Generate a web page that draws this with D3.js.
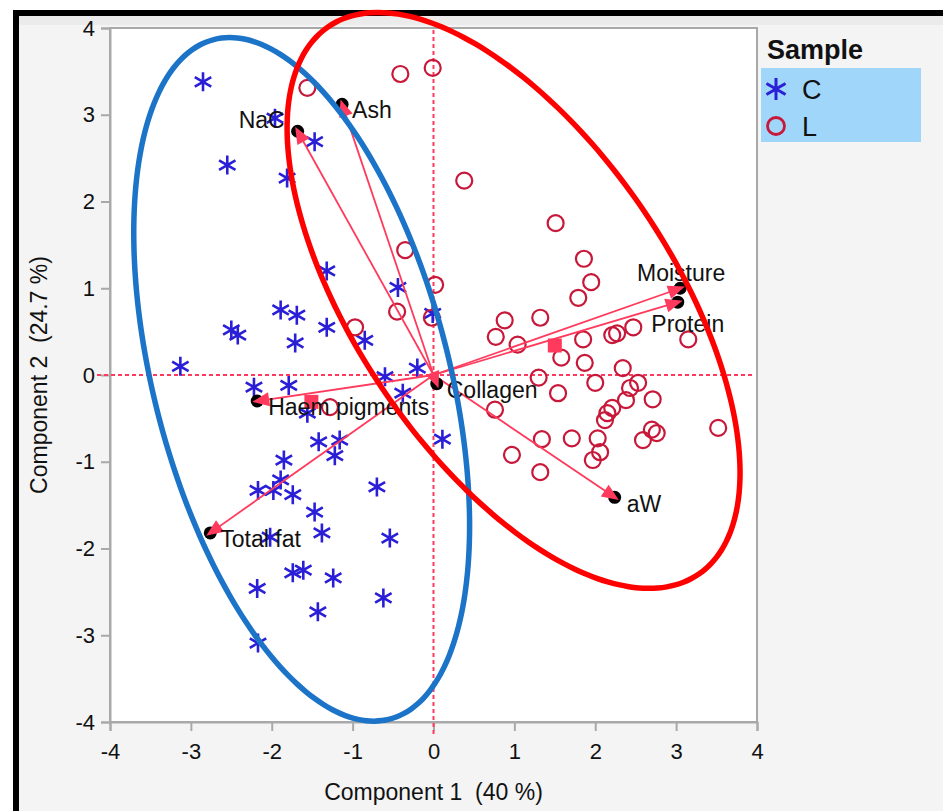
<!DOCTYPE html>
<html>
<head>
<meta charset="utf-8">
<script src="https://cdn.jsdelivr.net/npm/d3@7"></script>
<style>
  html, body { margin: 0; padding: 0; background: #fff; }
  svg { display: block; font-family: "Liberation Sans", Arial, Helvetica, sans-serif; }
</style>
</head>
<body>
<svg width="943" height="811"></svg>
<script>
// 样本得分 C 组 (component 1, component 2)
var scoresC = [
  [-2.85, 3.38], [-1.96, 2.96], [-2.55, 2.42], [-1.81, 2.27], [-1.47, 2.69],
  [-1.32, 1.20], [-0.44, 1.01], [-0.01, 0.71], [-1.89, 0.75], [-1.69, 0.69],
  [-1.32, 0.55], [-2.50, 0.52], [-2.42, 0.46], [-1.71, 0.37], [-0.85, 0.40],
  [-3.13, 0.10], [-2.22, -0.14], [-1.79, -0.12], [-0.60, -0.02], [-0.20, 0.08],
  [-0.38, -0.21], [-1.56, -0.44], [-1.42, -0.77], [-1.16, -0.75], [-1.22, -0.93],
  [-1.85, -0.98], [0.11, -0.74], [-2.17, -1.33], [-1.98, -1.33], [-1.89, -1.21],
  [-1.74, -1.38], [-0.70, -1.29], [-1.47, -1.58], [-1.38, -1.82], [-0.54, -1.88],
  [-2.02, -1.87], [-1.74, -2.28], [-1.61, -2.25], [-1.24, -2.34], [-2.18, -2.46],
  [-0.62, -2.57], [-1.43, -2.73], [-2.17, -3.09]
];
// 样本得分 L 组
var scoresL = [
  [-0.41, 3.47], [-0.01, 3.54], [-1.56, 3.31], [0.38, 2.24], [1.51, 1.75],
  [1.86, 1.34], [-0.35, 1.44], [1.95, 1.07], [0.02, 1.04], [-0.45, 0.73],
  [-0.97, 0.55], [-0.02, 0.66], [1.79, 0.89], [0.88, 0.63], [1.32, 0.66],
  [0.77, 0.44], [1.04, 0.35], [1.85, 0.41], [1.58, 0.20], [1.87, 0.14],
  [2.21, 0.46], [2.27, 0.48], [2.47, 0.55], [3.15, 0.41], [2.34, 0.08],
  [1.30, -0.03], [2.00, -0.09], [2.43, -0.15], [2.53, -0.09], [1.54, -0.21],
  [2.71, -0.28], [0.76, -0.40], [2.38, -0.29], [2.15, -0.44], [2.21, -0.38],
  [2.12, -0.52], [1.34, -0.74], [1.71, -0.73], [2.03, -0.73], [2.70, -0.63],
  [2.76, -0.67], [2.59, -0.75], [3.52, -0.61], [2.06, -0.89], [1.97, -0.98],
  [0.97, -0.92], [1.32, -1.12], [-1.28, -0.37]
];
// 变量载荷
var loadingNames = ["NaCl", "Ash", "Moisture", "Protein", "Collagen", "Haem pigments", "Total fat", "aW"];
var loadingX = [-1.68, -1.13, 3.05, 3.02, 0.04, -2.18, -2.76, 2.24];
var loadingY = [2.81, 3.12, 1.00, 0.84, -0.10, -0.30, -1.82, -1.41];
// 组均值 (红色方块)
var groupMeans = [[-1.51, -0.31], [1.50, 0.34]];
// 椭圆: 中心 + 两个共轭半轴向量 (数据单位)
var ellipseC = { cx: -1.63, cy: -0.05, ux: 1.087, uy: -3.917, vx: 1.769, vy: 0.425 };
var ellipseL = { cx: 0.99, cy: 0.86, ux: 2.282, uy: -3.160, vx: 1.623, vy: 1.016 };
var tickValues = [-4, -3, -2, -1, 0, 1, 2, 3, 4];
var legendItems = ["C", "L"];

const svg = d3.select('svg');
const width = +svg.attr('width');
const height = +svg.attr('height');
const plot = { left: 110, right: 757, top: 28, bottom: 722 };

const starColor = "#2a1fd6";
const circleColor = "#c8183a";
const arrowColor = "#ff3a5c";
const gridGray = "#a9a9a9";

// 背景与边框
svg.append("rect").attr("width", width).attr("height", height).attr("fill", "#fff");
svg.append("rect").attr("x", 13).attr("y", 10).attr("width", width - 13).attr("height", height - 10).attr("fill", "#000");
svg.append("rect").attr("x", 19).attr("y", 16).attr("width", width - 19).attr("height", height - 16).attr("fill", "#f4f4f4");
svg.append("rect").attr("x", 19).attr("y", 16).attr("width", width - 19).attr("height", 9).attr("fill", "#ebebeb");

const xScale = d3.scaleLinear().domain([-4, 4]).range([plot.left, plot.right]);
const yScale = d3.scaleLinear().domain([-4, 4]).range([plot.bottom, plot.top]);

svg.append("rect")
  .attr("x", plot.left).attr("y", plot.top)
  .attr("width", plot.right - plot.left).attr("height", plot.bottom - plot.top)
  .attr("fill", "#fff").attr("stroke", gridGray).attr("stroke-width", 2);

const xAxis = d3.axisBottom(xScale).tickValues(tickValues).tickSize(9).tickPadding(12).tickFormat(d => String(d));
const yAxis = d3.axisLeft(yScale).tickValues(tickValues).tickSize(9).tickPadding(6).tickFormat(d => String(d));

const xAxisG = svg.append("g").attr("transform", `translate(0,${plot.bottom})`).call(xAxis);
const yAxisG = svg.append("g").attr("transform", `translate(${plot.left},0)`).call(yAxis);
[xAxisG, yAxisG].forEach(g => {
  g.attr("font-size", 22).attr("font-family", "Liberation Sans, Arial, sans-serif");
  g.select(".domain").attr("stroke", gridGray).attr("stroke-width", 2);
  g.selectAll(".tick line").attr("stroke", gridGray).attr("stroke-width", 2);
  g.selectAll(".tick text").attr("fill", "#111");
});
xAxisG.selectAll(".tick text").attr("dy", "0.71em");

// 轴标题
svg.append("text")
  .attr("x", xScale(0)).attr("y", 800)
  .attr("text-anchor", "middle").attr("font-size", 23).attr("fill", "#111")
  .attr("xml:space", "preserve")
  .text("Component 1  (40 %)");
svg.append("text")
  .attr("transform", `translate(47,${yScale(0)}) rotate(-90)`)
  .attr("text-anchor", "middle").attr("font-size", 23).attr("fill", "#111")
  .attr("xml:space", "preserve")
  .text("Component 2  (24.7 %)");

// 零线 (虚线)
svg.append("line")
  .attr("x1", xScale(0)).attr("x2", xScale(0))
  .attr("y1", plot.top + 2).attr("y2", plot.bottom + 15)
  .attr("stroke", arrowColor).attr("stroke-width", 2).attr("stroke-dasharray", "4,3");
svg.append("line")
  .attr("x1", plot.left - 13).attr("x2", plot.right - 2)
  .attr("y1", yScale(0)).attr("y2", yScale(0))
  .attr("stroke", arrowColor).attr("stroke-width", 2).attr("stroke-dasharray", "4,3");

// 星号
function starPath(r) {
  var a = r * Math.cos(Math.PI / 6), b = r * Math.sin(Math.PI / 6);
  return `M0,${-r}L0,${r}M${-a},${-b}L${a},${b}M${-a},${b}L${a},${-b}`;
}

svg.append("g").selectAll("path")
  .data(scoresC).enter().append("path")
  .attr("transform", d => `translate(${xScale(d[0])},${yScale(d[1])})`)
  .attr("d", starPath(9.5))
  .attr("stroke", starColor).attr("stroke-width", 2.6).attr("fill", "none");

svg.append("g").selectAll("circle")
  .data(scoresL).enter().append("circle")
  .attr("cx", d => xScale(d[0])).attr("cy", d => yScale(d[1]))
  .attr("r", 8).attr("fill", "none")
  .attr("stroke", circleColor).attr("stroke-width", 2.2);

// 载荷箭头
var loadings = loadingNames.map((n, i) => ({ name: n, x: loadingX[i], y: loadingY[i] }));
const ox = xScale(0), oy = yScale(0);

svg.append("g").selectAll("line")
  .data(loadings).enter().append("line")
  .attr("x1", ox).attr("y1", oy)
  .attr("x2", d => xScale(d.x)).attr("y2", d => yScale(d.y))
  .attr("stroke", arrowColor).attr("stroke-width", 1.8);

svg.append("g").selectAll("rect")
  .data(groupMeans).enter().append("rect")
  .attr("x", d => xScale(d[0]) - 7).attr("y", d => yScale(d[1]) - 7)
  .attr("width", 14).attr("height", 14).attr("fill", arrowColor);

svg.append("g").selectAll("circle")
  .data(loadings).enter().append("circle")
  .attr("cx", d => xScale(d.x)).attr("cy", d => yScale(d.y))
  .attr("r", 6.5).attr("fill", "#000");

function headPath(d) {
  var px = xScale(d.x), py = yScale(d.y);
  var dx = px - ox, dy = py - oy, len = Math.sqrt(dx * dx + dy * dy);
  var ux = dx / len, uy = dy / len;
  var tx = px + ux * 5, ty = py + uy * 5;
  var bx = px - ux * 12, by = py - uy * 12;
  return `M${tx},${ty}L${bx - uy * 7},${by + ux * 7}L${bx + uy * 7},${by - ux * 7}Z`;
}
svg.append("g").selectAll("path")
  .data(loadings).enter().append("path")
  .attr("d", headPath).attr("fill", arrowColor);

// 标签位置
var labelPos = {
  "NaCl": { dx: -59, dy: -3, anchor: "start" },
  "Ash": { dx: 10, dy: 14, anchor: "start" },
  "Moisture": { dx: 1, dy: -7, anchor: "middle" },
  "Protein": { dx: 10, dy: 30, anchor: "middle" },
  "Collagen": { dx: 10, dy: 14, anchor: "start" },
  "Haem pigments": { dx: 11, dy: 14, anchor: "start" },
  "Total fat": { dx: 10, dy: 14, anchor: "start" },
  "aW": { dx: 12, dy: 15, anchor: "start" }
};
svg.append("g").selectAll("text")
  .data(loadings).enter().append("text")
  .attr("x", d => xScale(d.x) + labelPos[d.name].dx)
  .attr("y", d => yScale(d.y) + labelPos[d.name].dy)
  .attr("text-anchor", d => labelPos[d.name].anchor)
  .attr("font-size", 23).attr("fill", "#111")
  .text(d => d.name);

// 椭圆
function ellipsePath(e) {
  var pts = d3.range(0, 361, 3).map(t => {
    var a = t * Math.PI / 180;
    return [xScale(e.cx + e.ux * Math.cos(a) + e.vx * Math.sin(a)),
            yScale(e.cy + e.uy * Math.cos(a) + e.vy * Math.sin(a))];
  });
  return d3.line().curve(d3.curveCardinalClosed)(pts.slice(0, -1));
}
svg.append("path").attr("d", ellipsePath(ellipseC))
  .attr("fill", "none").attr("stroke", "#1b74c8").attr("stroke-width", 5.5);
svg.append("path").attr("d", ellipsePath(ellipseL))
  .attr("fill", "none").attr("stroke", "#ff0000").attr("stroke-width", 5.5);

// 图例
svg.append("text").attr("x", 767).attr("y", 59)
  .attr("font-size", 27).attr("font-weight", "bold").attr("fill", "#111").text("Sample");
svg.append("rect").attr("x", 761).attr("y", 68).attr("width", 160).attr("height", 74).attr("fill", "#9fd6fa");
var leg = svg.append("g").selectAll("g").data(legendItems).enter().append("g")
  .attr("transform", (d, i) => `translate(776,${89 + i * 37})`);
leg.filter(d => d == "C").append("path").attr("d", starPath(11))
  .attr("stroke", starColor).attr("stroke-width", 3).attr("fill", "none");
leg.filter(d => d == "L").append("circle").attr("r", 8.5)
  .attr("fill", "none").attr("stroke", circleColor).attr("stroke-width", 2.8);
leg.append("text").attr("x", 26).attr("y", 10)
  .attr("font-size", 27).attr("fill", "#111").text(d => d);
</script>
</body>
</html>
